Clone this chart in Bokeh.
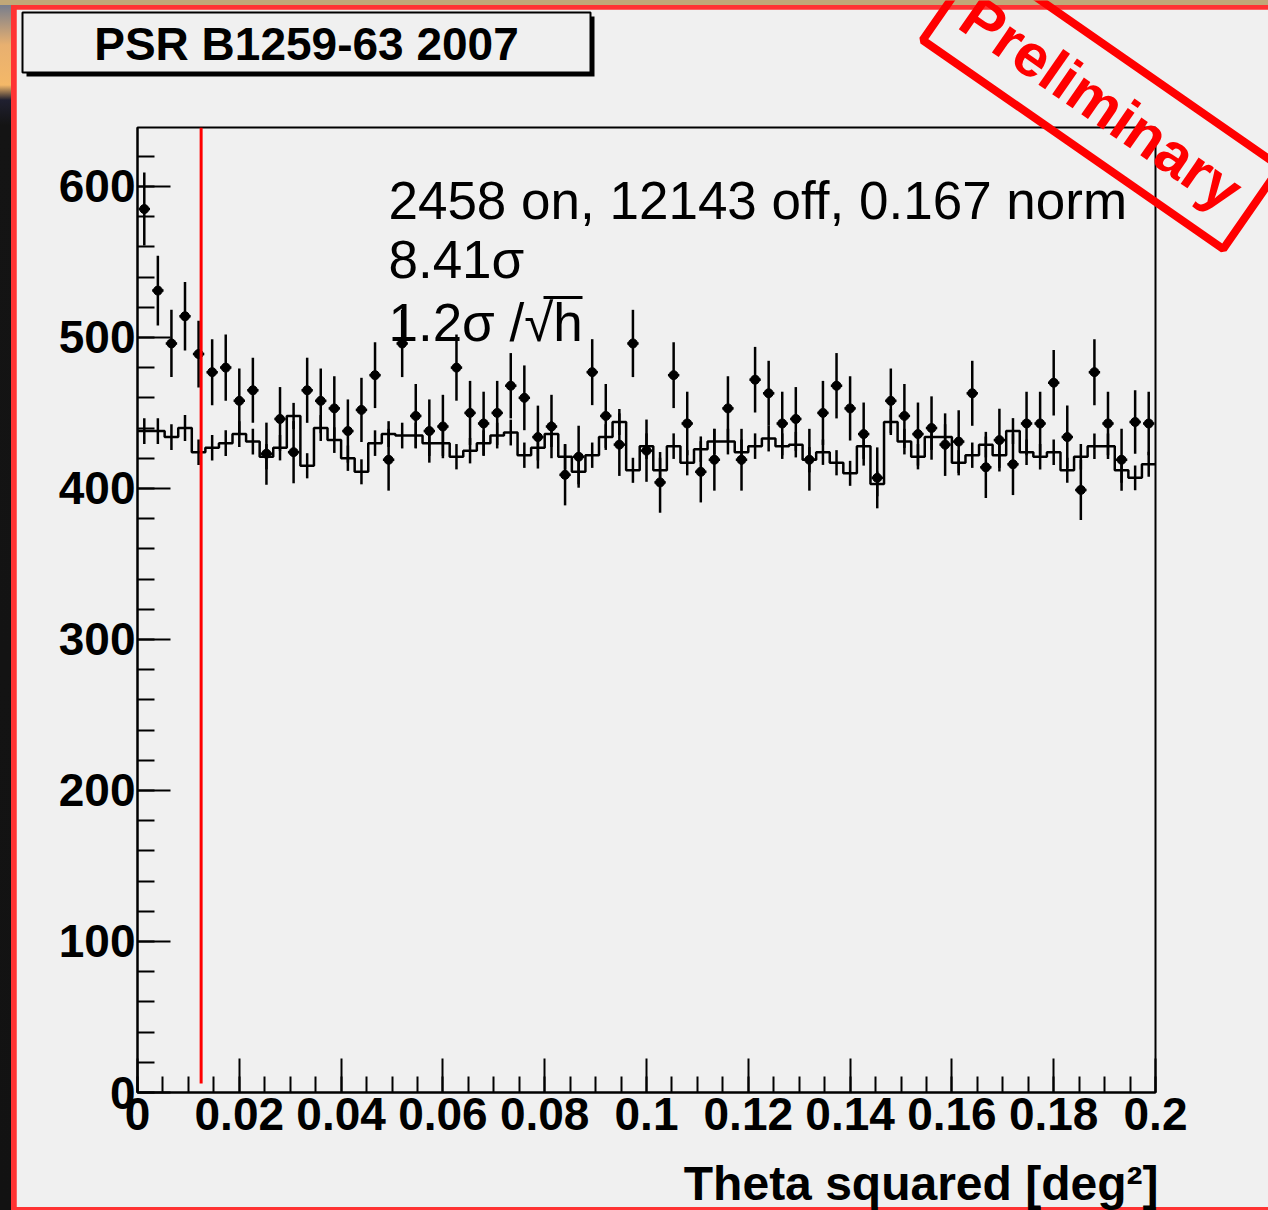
import numpy as np
from bokeh.plotting import figure
from bokeh.models import Label, FixedTicker
from bokeh.layouts import column
from bokeh.core.properties import value
from bokeh.embed import file_html
from bokeh.resources import INLINE

# ---------------- data ----------------
title_text = "PSR B1259-63 2007"
x_label = "Theta squared [deg\u00b2]"
stats_lines = ["2458 on, 12143 off, 0.167 norm", "8.41\u03c3", "1.2\u03c3 /\u221ah"]
stamp_text = "Preliminary"

n_bins = 75
x_lo, x_hi = 0.0, 0.2
y_lo, y_hi = 0, 639
theta2_cut = 0.0125
off_norm = 0.167

on_counts = [585, 531, 496, 514, 489, 477, 480, 458, 465, 423,
             446, 424, 465, 458, 453, 438, 452, 475, 419, 496,
             448, 438, 441, 480, 450, 443, 450, 468, 460, 434,
             441, 409, 421, 477, 448, 429, 496, 425, 404, 475,
             443, 411, 419, 453, 419, 472, 463, 443, 446, 419,
             450, 468, 453, 436, 407, 458, 448, 436, 440, 429,
             431, 463, 414, 432, 416, 443, 443, 470, 434, 399,
             477, 443, 419, 444, 443]

off_scaled = [438, 438, 434, 440, 424, 427, 430, 436, 431, 421,
              427, 448, 415, 440, 432, 420, 411, 430, 436, 435,
              435, 430, 430, 421, 425, 430, 435, 437, 422, 427,
              436, 421, 411, 422, 434, 444, 412, 428, 412, 428,
              417, 426, 431, 431, 424, 428, 433, 428, 429, 419,
              424, 417, 410, 428, 403, 444, 431, 421, 434, 434,
              417, 422, 429, 422, 438, 424, 421, 424, 412, 421,
              428, 428, 412, 407, 416]

x_ticks = [0, 0.02, 0.04, 0.06, 0.08, 0.1, 0.12, 0.14, 0.16, 0.18, 0.2]
x_tick_labels = ["0", "0.02", "0.04", "0.06", "0.08", "0.1", "0.12", "0.14", "0.16", "0.18", "0.2"]
y_ticks = [0, 100, 200, 300, 400, 500, 600]
y_tick_labels = ["0", "100", "200", "300", "400", "500", "600"]

# ---------------- derived ----------------
edges = np.linspace(x_lo, x_hi, n_bins + 1)
centers = 0.5 * (edges[:-1] + edges[1:])
bw = edges[1] - edges[0]
on = np.array(on_counts, dtype=float)
off = np.array(off_scaled, dtype=float)
on_err = np.sqrt(on)
off_err = np.sqrt(off * off_norm)

BG = "#f0f0f0"
FONT = "Liberation Sans"
W, H = 1268, 1210

# ---------------- main plot ----------------
p = figure(width=1252, height=1198, x_range=(x_lo, x_hi), y_range=(y_lo, y_hi),
           output_backend="svg", toolbar_location=None,
           min_border_left=121, min_border_right=113,
           min_border_top=118, min_border_bottom=115)
p.background_fill_color = BG
p.border_fill_color = BG
p.outline_line_color = "black"
p.outline_line_width = 2
p.xgrid.visible = False
p.ygrid.visible = False

for ax in (p.xaxis[0], p.yaxis[0]):
    ax.axis_line_width = 2
    ax.major_tick_line_width = 2
    ax.minor_tick_line_width = 2
    ax.major_tick_out = 0
    ax.minor_tick_out = 0
    ax.major_label_text_font = FONT
    ax.major_label_text_font_style = "bold"
    ax.major_label_text_font_size = "46px"
    ax.major_label_text_color = "black"

p.xaxis.ticker = FixedTicker(ticks=x_ticks,
                             minor_ticks=[i * 0.005 for i in range(41)])
p.xaxis.major_label_overrides = dict(zip(x_ticks, x_tick_labels))
p.xaxis.major_tick_in = 34
p.xaxis.minor_tick_in = 16
p.xaxis.major_label_standoff = 5

p.yaxis.ticker = FixedTicker(ticks=y_ticks, minor_ticks=list(range(0, 641, 20)))
p.yaxis.major_label_overrides = dict(zip(y_ticks, y_tick_labels))
p.yaxis.major_tick_in = 33
p.yaxis.minor_tick_in = 17
p.yaxis.major_label_standoff = 2

# off histogram (normalised)
p.step(list(edges), list(off) + [off[-1]], mode="after", line_color="black", line_width=2.5)
p.segment(x0=centers, y0=off - off_err, x1=centers, y1=off + off_err,
          line_color="black", line_width=2.5)

# on points
p.segment(x0=centers, y0=on - on_err, x1=centers, y1=on + on_err,
          line_color="black", line_width=2.5)
p.segment(x0=centers - 0.42 * bw, y0=on, x1=centers + 0.42 * bw, y1=on,
          line_color="black", line_width=2.5)
p.scatter(centers, on, size=9, color="black")

# cut line
p.segment(x0=[theta2_cut], y0=[6], x1=[theta2_cut], y1=[y_hi],
          line_color="#ff0000", line_width=3)

# stats text
for txt, yy in zip(stats_lines, [590.7, 551.7, 509.9]):
    p.add_layout(Label(x=0.0493, y=yy, text=txt, text_font=FONT,
                       text_font_size="53px", text_color="black",
                       text_align="left", text_baseline="alphabetic"))

# ---------------- overlay (page-pixel coordinates, y up) ----------------
ov = figure(width=W, height=H, x_range=(0, W), y_range=(0, H),
            output_backend="svg", toolbar_location=None,
            x_axis_type=None, y_axis_type=None,
            min_border=0, min_border_left=0, min_border_right=0,
            min_border_top=0, min_border_bottom=0)
ov.background_fill_alpha = 0
ov.border_fill_alpha = 0
ov.outline_line_color = None
ov.xgrid.visible = False
ov.ygrid.visible = False

# title box with shadow
ov.quad(left=[26], right=[594], top=[H - 16], bottom=[H - 76], fill_color="black", line_color=None)
ov.quad(left=[22], right=[590], top=[H - 12], bottom=[H - 72], fill_color=BG,
        line_color="black", line_width=2)
ov.text(x=[306], y=[H - 43], text=[title_text], text_font=value(FONT),
        text_font_size="46px", text_font_style="bold", text_color="black",
        text_align="center", text_baseline="middle")

# preliminary stamp
ov.rect(x=[1101], y=[H - 103], width=[366], height=[100], angle=-34.8, angle_units="deg",
        fill_color=None, line_color="#ff0000", line_width=8)
ov.text(x=[1101], y=[H - 103], text=[stamp_text], text_font=value(FONT),
        text_font_size="60px", text_font_style="bold", text_color="#ff0000",
        angle=-34.8, angle_units="deg", text_align="center", text_baseline="middle")

# overbar of the square root in the stats text
ov.segment(x0=[543], y0=[H - 297], x1=[582], y1=[H - 297], line_color="black", line_width=3)

# x axis title
ov.text(x=[1158], y=[H - 1183], text=[x_label], text_font=value(FONT),
        text_font_size="48px", text_font_style="bold", text_color="black",
        text_align="right", text_baseline="alphabetic")

ov.styles = {"position": "absolute", "top": "0px", "left": "0px", "pointer-events": "none"}

inner = column(p, styles={"background-color": "#ff3333",
                          "padding": "4px 0px 3px 5px"})
outer = column(inner, ov, styles={
    "position": "relative",
    "background": "linear-gradient(#c0a878,#c0a878) top left / 100% 5px no-repeat, "
                  "linear-gradient(to bottom, #6a7890 0px, #e8b070 45px, #f4b868 85px, "
                  "#202030 100px, #141414 125px, #121212 100%)",
    "padding": "5px 0px 0px 11px"})

open("out.html", "w").write(file_html(outer, INLINE))
